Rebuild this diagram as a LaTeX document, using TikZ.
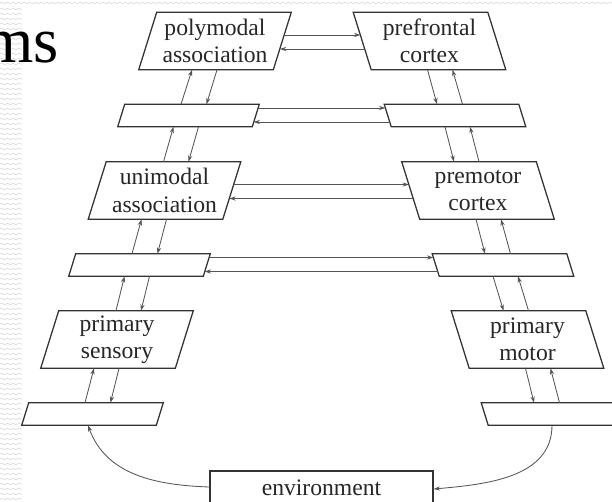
\documentclass[tikz,border=0pt]{standalone}
\usepackage{fontspec}
\setmainfont{Liberation Serif}
\usetikzlibrary{arrows.meta, calc, decorations.pathmorphing}
\definecolor{slidegray}{HTML}{DDDDDD}
\definecolor{boxline}{HTML}{333333}
\definecolor{arrowline}{HTML}{555555}

\begin{document}
\begin{tikzpicture}[
    x=0.025cm, y=-0.025cm,
    area/.style={
        rectangle,
        inner sep=0pt,
        minimum width=3.35cm,
        minimum height=1.425cm,
        font=\fontsize{16.8}{19.5}\selectfont,
        align=center,
        text=black!85
    },
    relay/.style={
        area,
        minimum height=0.55cm
    },
    outline/.style={
        draw=boxline,
        line width=0.9pt,
        line join=miter
    },
    arrow/.style={
        -{Stealth[length=4.5pt, width=3pt]},
        line width=0.6pt,
        arrowline
    },
    wave/.style={
        slidegray,
        line width=0.5pt,
        decorate,
        decoration={snake, amplitude=0.6pt, segment length=4pt}
    }
]
\useasboundingbox (0,0) rectangle (612,501);

% Slide background
\draw[wave] (0,3) -- (612,3);
\foreach \yy in {9,14,...,499}
    \draw[wave] (0,\yy) -- (22,\yy);
\node[anchor=base east, font=\fontsize{46}{46}\selectfont] (title) at (63.5,62) {ms};

% Sensory side
\node[area] (poly) at (215,41) {polymodal\\association};
\node[relay] (r2l) at (188.5,115.5) {};
\node[area] (uni) at (164.5,190.5) {unimodal\\association};
\node[relay] (r4l) at (139.5,265) {};
\node[area] (sens) at (117,339.5) {primary\\sensory};
\node[relay] (r6l) at (92.5,414) {};

% Motor side
\node[area] (pref) at (429.5,41) {prefrontal\\cortex};
\node[relay] (r2r) at (455,115.5) {};
\node[area] (prem) at (478,190.5) {premotor\\cortex};
\node[relay] (r4r) at (503,265) {};
\node[area] (mot) at (527.5,339.5) {primary\\motor};
\node[relay] (r6r) at (552,414) {};

% Environment
\node[rectangle, outline, minimum width=5.575cm, minimum height=0.85cm,
      font=\fontsize{16.8}{19.5}\selectfont, text=black!85] (env) at (321.5,488) {environment};

% Slanted outlines
\foreach \n/\s in {poly/9, r2l/3.5, uni/9, r4l/3.5, sens/9, r6l/3.5,
                   pref/-9, r2r/-3.5, prem/-9, r4r/-3.5, mot/-9, r6r/-3.5}
    \draw[outline] ($(\n.north west)+(\s,0)$) -- ($(\n.north east)+(\s,0)$)
        -- ($(\n.south east)-(\s,0)$) -- ($(\n.south west)-(\s,0)$) -- cycle;

% Across
\draw[arrow] ($(poly.east)+(1.9,-6)$) -- ($(pref.west)+(-1.9,-6)$);
\draw[arrow] ($(pref.west)+(2.5,8)$) -- ($(poly.east)+(-2.5,8)$);
\draw[arrow] ($(r2l.east)+(2.4,-7.5)$) -- ($(r2r.west)+(-2.4,-7.5)$);
\draw[arrow] ($(r2r.west)+(2.1,6.5)$) -- ($(r2l.east)+(-2.1,6.5)$);
\draw[arrow] ($(uni.east)+(1.9,-6)$) -- ($(prem.west)+(-1.9,-6)$);
\draw[arrow] ($(prem.west)+(2.5,8)$) -- ($(uni.east)+(-2.5,8)$);
\draw[arrow] ($(r4l.east)+(2.4,-7.5)$) -- ($(r4r.west)+(-2.4,-7.5)$);
\draw[arrow] ($(r4r.west)+(2.1,6.5)$) -- ($(r4l.east)+(-2.1,6.5)$);

% Up and down, sensory side
\draw[arrow] ($(r2l.north)+(-7.5,0)$) -- ($(poly.south)+(-23,0)$);
\draw[arrow] ($(poly.south)+(2,0)$) -- ($(r2l.north)+(18,0)$);
\draw[arrow] ($(uni.north)+(-1,0)$) -- ($(r2l.south)+(-15,0)$);
\draw[arrow] ($(r2l.south)+(10,0)$) -- ($(uni.north)+(24,0)$);
\draw[arrow] ($(r4l.north)+(-7.5,0)$) -- ($(uni.south)+(-23,0)$);
\draw[arrow] ($(uni.south)+(2,0)$) -- ($(r4l.north)+(18,0)$);
\draw[arrow] ($(sens.north)+(-1,0)$) -- ($(r4l.south)+(-15,0)$);
\draw[arrow] ($(r4l.south)+(10,0)$) -- ($(sens.north)+(24,0)$);
\draw[arrow] ($(r6l.north)+(-7.5,0)$) -- ($(sens.south)+(-23,0)$);
\draw[arrow] ($(sens.south)+(2,0)$) -- ($(r6l.north)+(18,0)$);

% Up and down, motor side
\draw[arrow] ($(pref.south)+(-2,0)$) -- ($(r2r.north)+(-18,0)$);
\draw[arrow] ($(r2r.north)+(7.5,0)$) -- ($(pref.south)+(23,0)$);
\draw[arrow] ($(r2r.south)+(-10,0)$) -- ($(prem.north)+(-24,0)$);
\draw[arrow] ($(prem.north)+(1,0)$) -- ($(r2r.south)+(15,0)$);
\draw[arrow] ($(prem.south)+(-2,0)$) -- ($(r4r.north)+(-18,0)$);
\draw[arrow] ($(r4r.north)+(7.5,0)$) -- ($(prem.south)+(23,0)$);
\draw[arrow] ($(r4r.south)+(-10,0)$) -- ($(mot.north)+(-24,0)$);
\draw[arrow] ($(mot.north)+(1,0)$) -- ($(r4r.south)+(15,0)$);
\draw[arrow] ($(mot.south)+(-2,0)$) -- ($(r6r.north)+(-18,0)$);
\draw[arrow] ($(r6r.north)+(7.5,0)$) -- ($(mot.south)+(23,0)$);

% Loop through the environment
\draw[arrow] ($(env.west)+(0,-1)$) to[out=178, in=-70] ($(r6l.south)+(-4.5,0)$);
\draw[arrow] (r6r.south) to[out=-90, in=5] ($(env.east)+(0,1)$);

\end{tikzpicture}
\end{document}
